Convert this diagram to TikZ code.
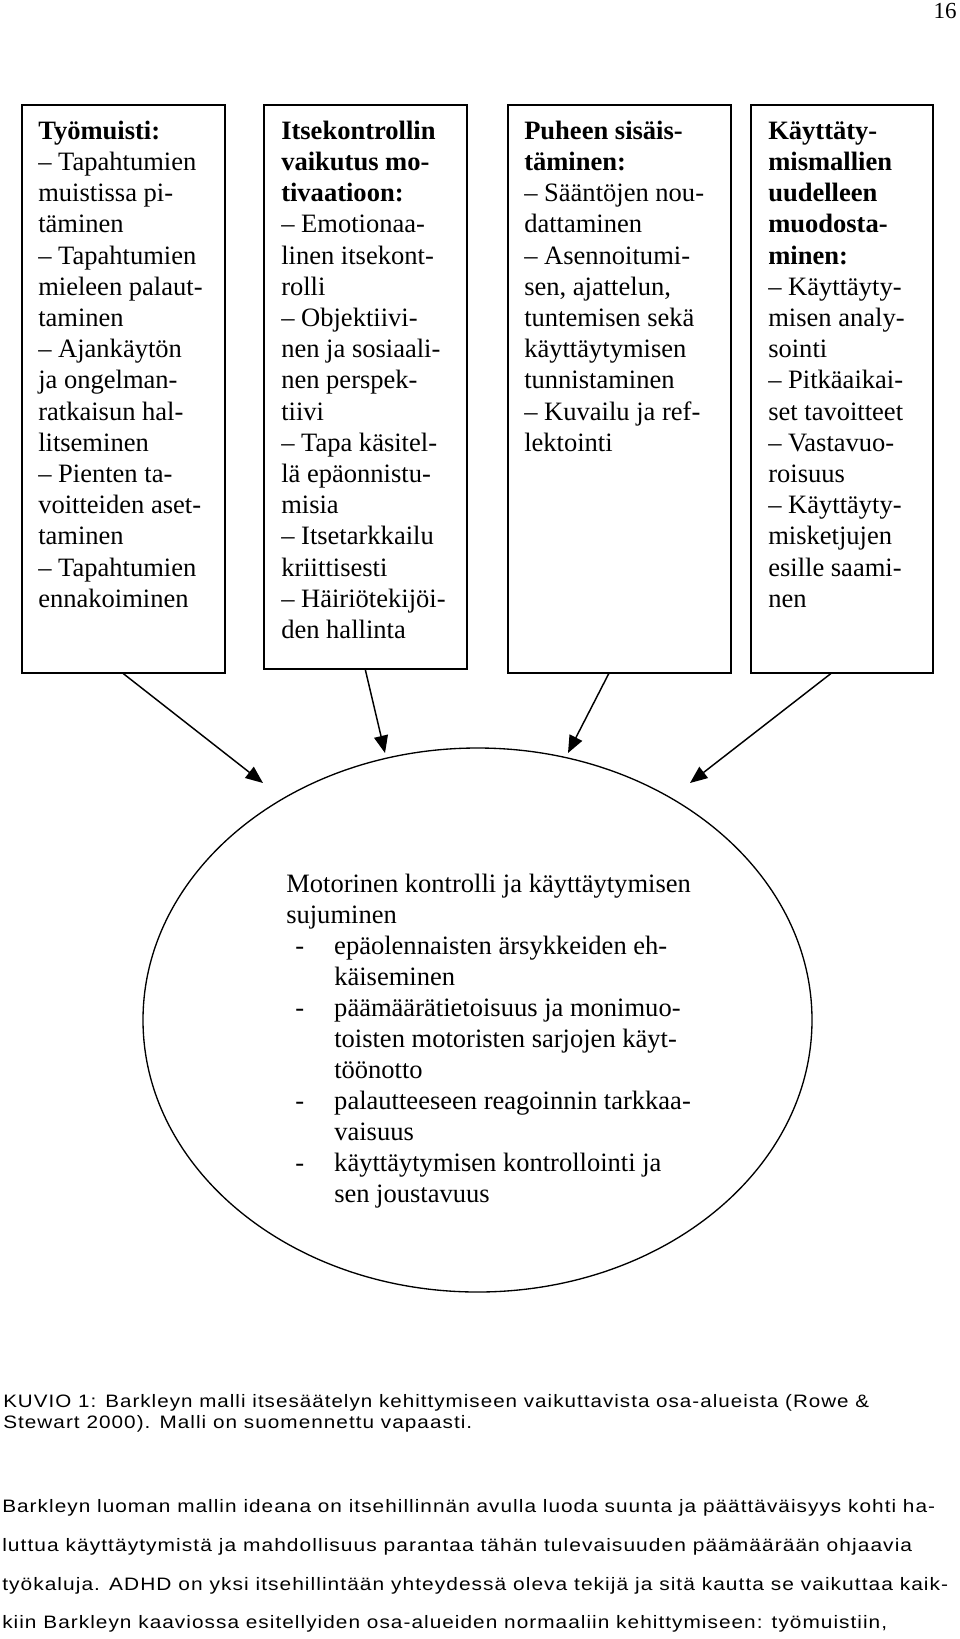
\documentclass[tikz,border=0pt]{standalone}
\usepackage{fontspec}
\setmainfont{Liberation Serif}
\newfontfamily\capfont[LetterSpace=5]{Liberation Sans}
\usepackage{graphicx}
\usetikzlibrary{arrows.meta,shapes.geometric}
\newlength\fitlen
\newcommand\fitline[2]{\settowidth\fitlen{#2}\pgfmathsetmacro\fitscale{#1*0.75/\fitlen}\scalebox{\fitscale}[1]{#2}}
\newcommand\itm{\makebox[36pt][l]{\hspace*{6.75pt}-}}
\newcommand\ind{\hspace*{36pt}}
\begin{document}
\begin{tikzpicture}[x=0.75pt,y=-0.75pt,
  boxst/.style={draw, line width=1.2pt, inner sep=0pt, anchor=north west},
  boxtxt/.style={anchor=north west, inner sep=0pt, align=left, font=\fontsize{19.9pt}{23.4pt}\selectfont},
  elltxt/.style={anchor=north west, inner sep=0pt, align=left, font=\fontsize{19.9pt}{23.3pt}\selectfont},
  arr/.style={line width=1.1pt, -{Triangle[length=13pt,width=10.5pt]}},
  sanstxt/.style={anchor=base west, inner sep=0pt, font=\capfont\fontsize{13.5pt}{16pt}\selectfont}]
\path[fill=white] (0,0) rectangle (960,1639);
\useasboundingbox (0,0) rectangle (960,1639);

\node[anchor=base east, inner sep=0pt, font=\fontsize{17.25pt}{20pt}\selectfont] (pg) at (957,18) {16};

% boxes
\node[boxst, minimum width=152.25pt, minimum height=426pt] (b1) at (21,104) {};
\node[boxst, minimum width=152.25pt, minimum height=423pt] (b2) at (263,104) {};
\node[boxst, minimum width=167.25pt, minimum height=426pt] (b3) at (507,104) {};
\node[boxst, minimum width=136.5pt, minimum height=426pt] (b4) at (750,104) {};

\node[boxtxt] (t1) at (38,117.2) {\strut\textbf{Työmuisti:}\\
– Tapahtumien\\
muistissa pi-\\
täminen\\
– Tapahtumien\\
mieleen palaut-\\
taminen\\
– Ajankäytön\\
ja ongelman-\\
ratkaisun hal-\\
litseminen\\
– Pienten ta-\\
voitteiden aset-\\
taminen\\
– Tapahtumien\\
ennakoiminen};

\node[boxtxt] (t2) at (281,117.2) {\strut\textbf{Itsekontrollin}\\
\textbf{vaikutus mo-}\\
\textbf{tivaatioon:}\\
– Emotionaa-\\
linen itsekont-\\
rolli\\
– Objektiivi-\\
nen ja sosiaali-\\
nen perspek-\\
tiivi\\
– Tapa käsitel-\\
lä epäonnistu-\\
misia\\
– Itsetarkkailu\\
kriittisesti\\
– Häiriötekijöi-\\
den hallinta};

\node[boxtxt] (t3) at (524,117.2) {\strut\textbf{Puheen sisäis-}\\
\textbf{täminen:}\\
– Sääntöjen nou-\\
dattaminen\\
– Asennoitumi-\\
sen, ajattelun,\\
tuntemisen sekä\\
käyttäytymisen\\
tunnistaminen\\
– Kuvailu ja ref-\\
lektointi};

\node[boxtxt] (t4) at (768,117.2) {\strut\textbf{Käyttäty-}\\
\textbf{mismallien}\\
\textbf{uudelleen}\\
\textbf{muodosta-}\\
\textbf{minen:}\\
– Käyttäyty-\\
misen analy-\\
sointi\\
– Pitkäaikai-\\
set tavoitteet\\
– Vastavuo-\\
roisuus\\
– Käyttäyty-\\
misketjujen\\
esille saami-\\
nen};

% ellipse
\node[draw, ellipse, line width=1pt, minimum width=501.75pt, minimum height=408pt, inner sep=0pt] (ell) at (477.5,1020) {};
\node[elltxt] (et) at (286,870.2) {\strut Motorinen kontrolli ja käyttäytymisen\\
sujuminen\\
\itm epäolennaisten ärsykkeiden eh-\\
\ind käiseminen\\
\itm päämäärätietoisuus ja monimuo-\\
\ind toisten motoristen sarjojen käyt-\\
\ind töönotto\\
\itm palautteeseen reagoinnin tarkkaa-\\
\ind vaisuus\\
\itm käyttäytymisen kontrollointi ja\\
\ind sen joustavuus};

% arrows
\coordinate (e1) at (263,783);
\coordinate (e2) at (385,753);
\coordinate (e3) at (568,753);
\coordinate (e4) at (690,783);
\draw[arr] (b1.south) -- (e1);
\draw[arr] (b2.south) -- (e2);
\draw[arr] ([xshift=-7.9pt]b3.south) -- (e3);
\draw[arr] ([xshift=-8.25pt]b4.south) -- (e4);

% caption and body text
\node[sanstxt] (c1) at (3,1407) {\fitline{866}{KUVIO 1: Barkleyn malli itsesäätelyn kehittymiseen vaikuttavista osa-alueista (Rowe \&}};
\node[sanstxt] (c2) at (3,1428) {\fitline{469}{Stewart 2000). Malli on suomennettu vapaasti.}};
\node[sanstxt] (p1) at (2,1512) {\fitline{933}{Barkleyn luoman mallin ideana on itsehillinnän avulla luoda suunta ja päättäväisyys kohti ha-}};
\node[sanstxt] (p2) at (2,1551) {\fitline{910}{luttua käyttäytymistä ja mahdollisuus parantaa tähän tulevaisuuden päämäärään ohjaavia}};
\node[sanstxt] (p3) at (2,1590) {\fitline{946}{työkaluja. ADHD on yksi itsehillintään yhteydessä oleva tekijä ja sitä kautta se vaikuttaa kaik-}};
\node[sanstxt] (p4) at (2,1628) {\fitline{885}{kiin Barkleyn kaaviossa esitellyiden osa-alueiden normaaliin kehittymiseen: työmuistiin,}};
\end{tikzpicture}
\end{document}
